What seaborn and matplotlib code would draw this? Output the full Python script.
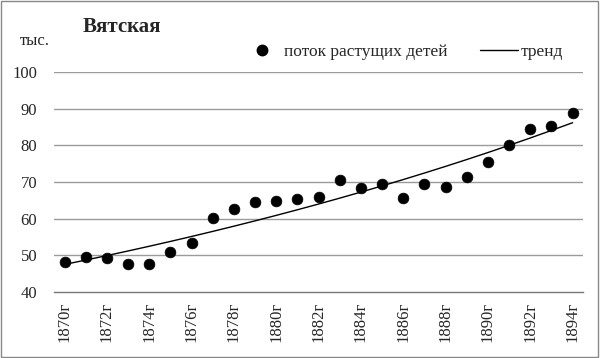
import numpy as np
import pandas as pd
import seaborn as sns
import matplotlib.pyplot as plt
from matplotlib.lines import Line2D
from matplotlib.patches import Rectangle

sns.set_theme(style="white")
plt.rcParams["font.family"] = ["Liberation Serif", "DejaVu Serif"]

# данные
years = list(range(1870, 1895))
labels = [f"{y}г" for y in years]
values = [48.3, 49.5, 49.2, 47.6, 47.8, 51.0, 53.3, 60.1, 62.6, 64.6, 64.9, 65.4,
          66.0, 70.5, 68.4, 69.5, 65.7, 69.5, 68.6, 71.3, 75.5, 80.0, 84.5, 85.4, 88.7]
df = pd.DataFrame({"idx": np.arange(len(years)), "val": values})

# экспоненциальный тренд (как в Excel)
b, a = np.polyfit(df["idx"], np.log(df["val"]), 1)
df["trend"] = np.exp(a + b * df["idx"])

fig = plt.figure(figsize=(6, 3.58), dpi=100)
ax = fig.add_axes([0.09, 0.184, 0.882, 0.615])

# сетка
ax.set_ylim(40, 100)
ax.set_yticks(range(40, 101, 10))
for v in range(50, 101, 10):
    ax.axhline(v, color="#9a9a9a", lw=1, zorder=0)

sns.scatterplot(data=df, x="idx", y="val", ax=ax, color="black", s=60,
                edgecolor="black", linewidth=0.5, zorder=3, legend=False)
sns.lineplot(data=df, x="idx", y="trend", ax=ax, color="black", lw=1, zorder=2)

ax.set_xlim(-0.5, len(years) - 0.5)
ax.set_xticks(range(0, len(years), 2))
ax.set_xticklabels(labels[::2], rotation=90, fontsize=12)
ax.set_xticks(np.arange(-0.5, len(years), 1), minor=True)
ax.tick_params(axis="x", which="major", length=0, pad=7)
ax.tick_params(axis="x", which="minor", direction="inout", length=5, width=0.8, color="#777777")
ax.tick_params(axis="y", length=0, labelsize=12, pad=12)
ax.set_xlabel("")
ax.set_ylabel("")
for s in ["top", "right", "left"]:
    ax.spines[s].set_visible(False)
ax.spines["bottom"].set_color("#777777")
ax.spines["bottom"].set_linewidth(1)

# подписи
fig.text(0.137, 0.925, "Вятская", fontsize=15, fontweight="bold", ha="left", va="center")
fig.text(0.033, 0.885, "тыс.", fontsize=12, ha="left", va="center")

handles = [
    Line2D([], [], marker="o", color="black", ls="", markersize=7.5),
    Line2D([], [], color="black", lw=1),
]
fig.legend(handles, ["поток растущих детей", "тренд"], loc="center",
           bbox_to_anchor=(0.672, 0.855), ncol=2, frameon=False, fontsize=12.5,
           handlelength=2.2, handletextpad=0.15, columnspacing=1.9)

fig.patches.append(Rectangle((0.002, 0.003), 0.995, 0.993, transform=fig.transFigure,
                             fill=False, edgecolor="#888888", lw=1))

fig.savefig("out.png", dpi=100)
